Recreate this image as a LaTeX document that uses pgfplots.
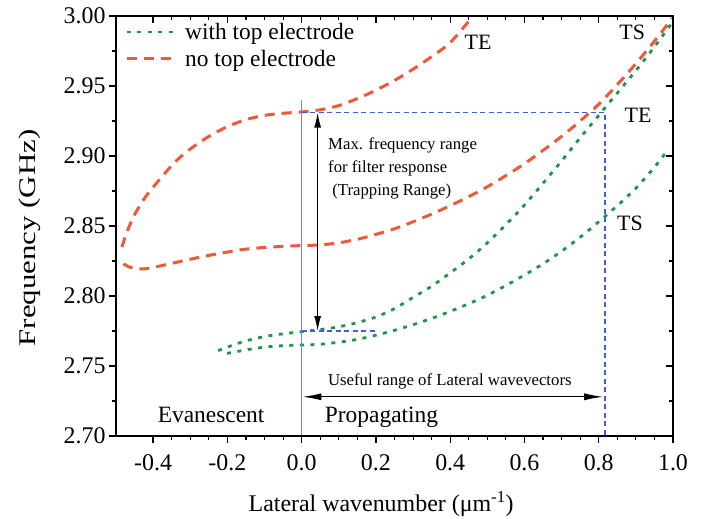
\documentclass[border=0pt]{standalone}
\usepackage{fontspec}
\setmainfont{Liberation Serif}
\usepackage{pgfplots}
\pgfplotsset{compat=1.18}
\usetikzlibrary{arrows.meta}
\definecolor{cred}{RGB}{240,88,58}
\definecolor{cgreen}{RGB}{30,150,70}
\definecolor{cblue}{RGB}{60,95,215}
\definecolor{cvblue}{RGB}{120,130,240}
\begin{document}
\begin{tikzpicture}
\useasboundingbox (-116bp,-83bp) rectangle (599bp,436bp);
\pgfplotsset{
  common/.style={
    width=557bp, height=420bp, scale only axis,
    xmin=-0.5, xmax=1.0, ymin=2.70, ymax=3.00,
    xtick={-0.4,-0.2,0.0,0.2,0.4,0.6,0.8,1.0},
    ytick={2.70,2.75,2.80,2.85,2.90,2.95,3.00},
    minor x tick num=3, minor y tick num=1,
    axis line style={line width=1.6bp},
    major tick style={line width=1.3bp, black},
    minor tick style={line width=1.1bp, black},
    major tick length=7bp, minor tick length=4bp,
  }
}
\begin{axis}[common, at={(0,0)}, anchor=south west,
  xtick pos=bottom, ytick pos=left, tick align=outside,
  /pgf/number format/assume math mode=true,
  xticklabel style={/pgf/number format/fixed,/pgf/number format/fixed zerofill,/pgf/number format/precision=1, yshift=-8bp},
  yticklabel style={/pgf/number format/fixed,/pgf/number format/fixed zerofill,/pgf/number format/precision=2},
  tick label style={font=\fontsize{24}{28}\selectfont},
  xlabel={Lateral wavenumber (μm\textsuperscript{-1})},
  ylabel={Frequency (GHz)},
  xlabel style={font=\fontsize{24}{28}\selectfont, at={(axis description cs:0.476,-0.180)}, anchor=base},
  ylabel style={font=\fontsize{24}{28}\selectfont, at={(axis description cs:-0.1454,0.4714)}, anchor=base, xscale=1.29},
  legend style={draw=none, fill=none, at={(axis description cs:0.0,1.0)}, anchor=north west,
    xshift=7bp, yshift=-5bp,
    font=\fontsize{23.5}{28}\selectfont, inner xsep=2bp, inner ysep=0bp, row sep=5bp,
    legend cell align=left},
  legend image code/.code={\draw[#1] (0bp,0bp) -- (48bp,0bp); \path (55bp,0bp);},
]
% green upper (with top electrode)
\addplot[cgreen, line width=2.8bp, dash pattern=on 4bp off 6.5bp, smooth] coordinates {
(-0.225,2.761)(-0.19,2.7645)(-0.15,2.768)(-0.10,2.771)(-0.05,2.773)(0.0,2.7745)(0.05,2.776)
(0.10,2.778)(0.15,2.781)(0.20,2.785)(0.25,2.791)(0.30,2.799)(0.35,2.807)(0.40,2.8165)
(0.45,2.8265)(0.50,2.838)(0.55,2.851)(0.60,2.865)(0.65,2.8805)(0.70,2.8965)(0.75,2.913)
(0.80,2.929)(0.85,2.945)(0.90,2.961)(0.95,2.978)(0.997,2.995)};
\addlegendentry{with top electrode}
% red upper (no top electrode)
\addplot[cred, line width=3bp, dash pattern=on 10bp off 7bp, smooth] coordinates {
(-0.484,2.835)(-0.47,2.846)(-0.45,2.858)(-0.42,2.871)(-0.38,2.884)(-0.34,2.896)(-0.30,2.905)
(-0.25,2.914)(-0.20,2.921)(-0.15,2.926)(-0.10,2.929)(-0.05,2.9305)(0.00,2.9315)(0.05,2.933)
(0.10,2.936)(0.15,2.941)(0.20,2.947)(0.25,2.954)(0.30,2.962)(0.35,2.971)(0.40,2.981)(0.457,2.9985)};
\addlegendentry{no top electrode}
% red lower
\addplot[cred, line width=3bp, dash pattern=on 10bp off 7bp, smooth, forget plot] coordinates {
(-0.480,2.823)(-0.462,2.8205)(-0.44,2.8195)(-0.42,2.8195)(-0.38,2.8215)(-0.33,2.8245)(-0.25,2.829)
(-0.15,2.8335)(-0.05,2.8355)(0.0,2.836)(0.05,2.8365)(0.10,2.838)(0.15,2.8405)(0.20,2.844)
(0.25,2.848)(0.30,2.853)(0.35,2.8585)(0.40,2.8645)(0.45,2.871)(0.50,2.878)(0.55,2.886)
(0.60,2.8945)(0.65,2.904)(0.70,2.914)(0.75,2.925)(0.80,2.937)(0.85,2.951)(0.90,2.966)
(0.95,2.982)(0.998,2.9985)};
% green lower
\addplot[cgreen, line width=2.8bp, dash pattern=on 4bp off 6.5bp, smooth, forget plot] coordinates {
(-0.201,2.759)(-0.15,2.7615)(-0.10,2.7635)(-0.05,2.7645)(0.0,2.765)(0.05,2.7655)(0.10,2.767)
(0.15,2.769)(0.20,2.772)(0.25,2.7755)(0.30,2.7795)(0.35,2.784)(0.40,2.789)(0.45,2.7945)
(0.50,2.8005)(0.55,2.8075)(0.60,2.815)(0.65,2.823)(0.70,2.832)(0.75,2.842)(0.80,2.853)
(0.85,2.8645)(0.90,2.877)(0.95,2.892)(0.985,2.904)};
% blue guide lines
\addplot[cvblue, line width=0.9bp, forget plot] coordinates {(0.0,2.70)(0.0,2.940)};
\addplot[cblue, line width=1.3bp, dash pattern=on 5bp off 3.5bp, forget plot] coordinates {(0.0,2.931)(0.817,2.931)(0.817,2.70)};
\addplot[cblue, line width=1.3bp, dash pattern=on 5bp off 3.5bp, forget plot] coordinates {(0.0,2.775)(0.198,2.775)};
% arrows
\addplot[black, line width=1.3bp, {Latex[length=15bp,width=7bp]}-{Latex[length=15bp,width=7bp]}, forget plot] coordinates {(0.043,2.931)(0.043,2.775)};
\addplot[black, line width=1.3bp, {Latex[length=19bp,width=7bp]}-{Latex[length=19bp,width=7bp]}, forget plot] coordinates {(0.002,2.728)(0.812,2.728)};
% texts
\node[font=\fontsize{16.8}{20}\selectfont, anchor=base west, inner sep=0pt] at (axis cs:0.071,2.9043) {Max. frequency range};
\node[font=\fontsize{16.8}{20}\selectfont, anchor=base west, inner sep=0pt] at (axis cs:0.071,2.8882) {for filter response};
\node[font=\fontsize{16.8}{20}\selectfont, anchor=base west, inner sep=0pt] at (axis cs:0.082,2.8721) {(Trapping Range)};
\node[font=\fontsize{16.8}{20}\selectfont, anchor=base, inner sep=0pt] at (axis cs:0.399,2.7358) {Useful range of Lateral wavevectors};
\node[font=\fontsize{23.5}{28}\selectfont, anchor=base, inner sep=0pt] at (axis cs:-0.244,2.7094) {Evanescent};
\node[font=\fontsize{23.5}{28}\selectfont, anchor=base, inner sep=0pt] at (axis cs:0.215,2.7094) {Propagating};
\node[font=\fontsize{22}{26}\selectfont, inner sep=0pt] at (axis cs:0.475,2.981) {TE};
\node[font=\fontsize{22}{26}\selectfont, inner sep=0pt] at (axis cs:0.890,2.9886) {TS};
\node[font=\fontsize{22}{26}\selectfont, inner sep=0pt] at (axis cs:0.906,2.929) {TE};
\node[font=\fontsize{22}{26}\selectfont, inner sep=0pt] at (axis cs:0.884,2.852) {TS};
\end{axis}
\begin{axis}[common, at={(0,0)}, anchor=south west,
  xtick pos=top, ytick pos=right, tick align=inside,
  xticklabels={}, yticklabels={}]
\end{axis}
\end{tikzpicture}
\end{document}
